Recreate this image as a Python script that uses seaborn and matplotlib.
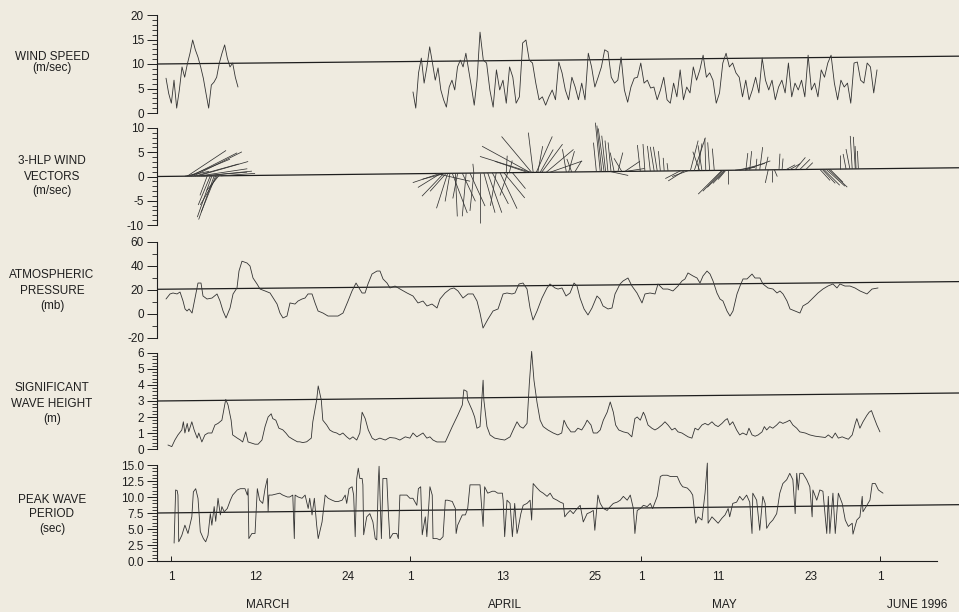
import numpy as np
import pandas as pd
import matplotlib
matplotlib.use("Agg")
import matplotlib.pyplot as plt
from matplotlib.collections import LineCollection
from matplotlib.ticker import MultipleLocator, FixedLocator, FormatStrFormatter
import seaborn as sns

# ------------------------------------------------------------------
# Buoy record, time in days after 1996-03-01 00:00
# ------------------------------------------------------------------

# Wind speed (m/s): March leg and April-May leg (regularly sampled)
wind_mar_span = (-0.65, 8.69)
wind_mar = [7.1, 4.0, 2.0, 6.7, 1.0, 4.7, 9.4, 7.3, 10.0, 12.2, 14.9, 12.9, 11.4, 9.4,
            7.1, 4.0, 1.0, 5.7, 6.3, 7.3, 10.2, 12.2, 13.9, 11.2, 9.4, 10.2, 7.3, 5.3]
wind_apr_a_span = (31.40, 39.71)
wind_apr_a = [4.3, 1.0, 8.2, 11.2, 6.1, 9.4, 13.5, 10.2, 6.7, 9.2, 4.7, 2.7, 1.2, 5.3,
              6.7, 4.7, 9.4, 10.8, 9.4, 12.2, 8.8, 5.3, 1.6, 6.7]
wind_apr_b_span = (40.10, 91.62)
wind_apr_b = [16.5, 10.8, 10.2, 4.7, 1.2, 8.8, 4.7, 6.7, 2.0, 9.4,
              7.3, 2.0, 3.3, 14.3, 14.9, 10.8, 10.2, 6.1, 2.7, 3.3,
              1.6, 3.3, 4.7, 2.7, 10.4, 8.2, 4.7, 2.7, 7.3, 5.3,
              2.7, 6.1, 2.7, 12.2, 9.4, 5.3, 7.3, 9.4, 12.9, 12.5,
              7.3, 6.1, 6.7, 11.4, 4.7, 2.2, 5.3, 7.1, 7.3, 10.2,
              6.1, 6.7, 5.1, 5.3, 2.7, 4.7, 7.3, 2.7, 2.0, 6.1,
              3.3, 8.8, 2.7, 5.3, 4.1, 9.4, 6.7, 8.8, 11.8, 7.3,
              8.2, 6.7, 2.0, 4.1, 10.2, 12.2, 9.4, 10.2, 8.2, 7.3,
              3.3, 6.7, 2.7, 4.7, 7.3, 4.1, 11.2, 6.7, 4.7, 6.7,
              2.7, 5.3, 6.7, 4.1, 10.2, 3.3, 6.1, 4.7, 6.7, 3.3,
              11.8, 4.7, 6.1, 3.3, 8.8, 7.3, 10.2, 11.8, 6.1, 2.7,
              6.7, 5.3, 6.1, 2.0, 10.2, 10.4, 6.7, 6.1, 10.2, 9.4,
              4.1, 8.8]

# 3-hour low-passed wind vectors: time, east (u) and north (v) components, m/s
vec_day = [1.8, 2.1, 2.3, 2.6, 2.9, 3.1, 3.4, 3.6, 3.9, 4.2, 4.7, 5.1, 5.3, 5.6, 5.8, 6.0, 6.2, 6.5,
           34.9, 35.0, 35.4, 35.7, 35.9, 36.2, 36.5, 36.9, 37.2, 37.8, 38.3, 38.8, 39.3, 40.1,
           40.6, 41.1, 41.7, 42.2, 42.7, 43.2, 43.7, 44.3, 34.4, 35.6, 39.3, 43.5, 43.9,
           46.6, 46.7, 46.8, 47.0, 47.4, 47.6, 47.9, 48.1, 48.7, 49.2, 46.3,
           51.3, 51.6, 52.0, 52.4,
           55.7, 55.9, 56.2, 56.4, 56.7, 57.1, 55.2, 57.5, 58.0, 58.5, 58.9, 57.0, 59.0,
           60.9, 61.5, 62.2, 62.7, 63.1, 63.5, 64.0, 64.5, 66.1, 66.6, 67.1,
           67.4, 67.9, 68.4, 68.9, 69.4, 69.9, 70.5, 68.6,
           71.5, 71.6, 71.8, 71.9, 72.0, 72.3,
           74.6, 75.1, 74.5, 73.8, 75.9, 76.4, 77.1, 73.2, 77.5, 78.0, 78.3,
           78.9, 79.3, 79.8, 81.0, 81.6, 82.4, 80.3,
           84.2, 84.5, 84.7, 85.0, 85.3, 85.5,
           86.8, 87.6, 88.4, 88.8, 88.9, 89.2, 88.1]
vec_u = [5.0, 8.0, 8.5, 9.5, 10.0, 9.0, 10.5, 10.0, 9.5, 10.0, -1.5, -2.5, -3.0, -3.2, -3.0, -3.5, -2.5, 7.0,
         -5.6, -4.7, -4.5, -3.3, -2.3, -1.0, 3.1, 0.4, -1.0, 2.7, -0.8, 3.1, -0.8, 0.0,
         2.3, 2.9, 3.3, -1.2, 3.5, 4.3, -1.6, 2.7, 7.0, -4.7, -0.2, 0.2, 0.6,
         -9.9, -10.5, -6.2, -1.0, 3.3, 1.0, 2.7, 4.3, 5.6, 6.6, -6.8,
         -0.8, 1.2, -1.0, 1.4,
         -1.0, -1.0, -1.2, -0.8, -0.6, -0.6, -0.6, -0.8, 1.0, -1.6, 3.1, 3.7, 3.9,
         -0.6, -0.4, -0.6, -0.8, -0.8, -0.4, -0.2, -0.2, -3.1, -3.3, -3.3,
         1.6, 2.3, 0.8, -0.8, -0.2, -0.4, -0.4, -1.4,
         -4.9, -4.1, -3.5, -2.5, -1.6, 0.0,
         0.4, 0.4, 5.2, 5.2, 0.2, 0.6, 0.6, 4.1, -0.6, 0.0, 0.6,
         0.2, 0.2, 1.9, 2.1, 2.1, 1.4, 2.1,
         2.1, 2.7, 3.3, 3.9, 3.9, 2.7,
         0.0, -0.6, -0.4, -0.4, -0.2, -0.2, -0.8]
vec_v = [1.0, 5.3, 3.5, 4.8, 5.0, 2.5, 3.0, 1.5, 0.8, 1.0, -4.0, -6.0, -8.5, -9.0, -7.5, -6.0, -3.0, 0.5,
         -1.9, -2.9, -4.7, -3.7, -7.2, -5.8, -8.2, -8.9, -5.2, -5.8, -8.9, -6.8, -7.8, -10.3,
         -8.2, -8.2, -6.4, -6.8, -7.4, -5.2, -4.7, -3.3, -1.6, -1.2, 1.9, 3.5, 2.5,
         5.4, 3.3, 7.4, 8.2, 7.4, 5.4, 4.7, 5.8, 4.7, 2.3, 2.3,
         4.7, 4.3, 2.7, 2.3,
         10.1, 9.5, 8.9, 7.4, 6.4, 6.0, 6.0, 3.9, 3.9, 2.7, 2.1, -0.8, 0.6,
         5.4, 5.6, 5.2, 5.0, 5.0, 4.1, 2.7, 1.6, -1.6, -2.1, -1.2,
         6.2, 6.8, 5.6, 5.2, 6.6, 5.8, 4.5, 3.9,
         -4.9, -4.3, -3.5, -2.7, -1.9, -2.9,
         3.5, 3.9, 1.9, 1.4, 2.3, 4.7, 2.7, 0.6, -2.7, -2.5, -1.4,
         3.3, 2.3, 1.0, 2.5, 2.1, 1.4, 1.2,
         -2.3, -2.9, -3.3, -3.5, -3.7, -2.7,
         2.9, 3.1, 6.8, 6.6, 4.7, 3.7, 4.1]

# Atmospheric pressure anomaly (mb)
pres_day = [-0.65, -0.13, 0.26, 0.78, 1.17, 1.56, 1.82, 2.08, 2.34, 2.73,
            3.11, 3.50, 3.89, 4.15, 4.67, 5.32, 5.97, 6.36, 6.75, 7.14,
            7.66, 8.05, 8.56, 8.82, 9.21, 9.86, 10.25, 10.64, 11.16, 11.55,
            12.20, 12.85, 13.76, 14.14, 14.53, 15.05, 15.44, 16.09, 16.48, 17.00,
            17.39, 17.78, 18.30, 18.69, 19.08, 19.72, 20.37, 21.02, 21.67, 22.32,
            22.97, 23.49, 24.01, 24.40, 24.79, 25.18, 25.56, 26.08, 26.73, 27.12,
            27.51, 28.03, 28.42, 29.07, 29.72, 30.63, 31.40, 32.05, 32.70, 33.22,
            33.87, 34.52, 34.91, 35.56, 36.21, 36.72, 37.24, 37.89, 38.54, 39.19,
            39.71, 40.10,
            40.49, 41.14, 41.79, 42.44, 43.09, 43.60, 44.25, 44.64, 45.16, 45.68,
            46.20, 46.59, 46.98, 47.50, 48.14, 48.79, 49.18, 49.83, 50.22, 50.74,
            51.26, 51.78, 52.30, 52.69, 53.08, 53.60, 54.11, 54.63, 55.28, 55.67,
            56.06, 56.71, 57.23, 57.62, 58.27, 58.66, 59.30, 59.82, 60.47, 61.12,
            61.51, 62.16, 62.81, 63.20, 63.85, 64.49, 65.14, 65.79, 66.31, 66.70,
            67.09, 67.74, 68.26, 68.65, 69.04, 69.56, 69.95, 70.34, 70.85, 71.24,
            71.63, 72.15, 72.54, 72.93, 73.45, 73.84, 74.23, 74.75, 75.40, 75.79,
            76.43, 76.82, 77.47, 78.12, 78.64, 79.03, 79.42, 79.94, 80.33, 80.98,
            81.62, 82.01, 82.66, 83.31, 83.96, 84.60, 85.25, 85.90, 86.42, 86.81,
            87.46, 88.11, 88.76, 89.41, 90.32, 90.97, 91.75]
pres_mb = [12.5, 16.7, 17.5, 16.7, 18.3, 10.8, 4.2, 2.5, 4.2, 0.8,
           13.3, 25.8, 25.8, 15.0, 12.5, 13.3, 16.7, 10.8, 2.5, -3.3,
           5.0, 16.7, 21.7, 35.8, 44.0, 42.5, 40.0, 30.0, 25.0, 20.8,
           19.2, 17.5, 8.3, 0.8, -3.3, -1.7, 9.2, 8.3, 10.8, 12.5,
           13.3, 16.7, 16.7, 9.2, 2.5, 0.8, -1.7, -1.7, -1.7, 0.8,
           10.8, 19.2, 25.8, 21.7, 17.5, 17.5, 25.0, 33.3, 35.8, 35.8,
           29.2, 25.8, 21.7, 23.3, 20.8, 17.5, 15.0, 9.2, 10.8, 6.7,
           8.3, 5.0, 12.5, 17.5, 20.8, 21.7, 19.2, 13.3, 16.7, 16.7,
           10.8, 0.8,
           -11.7, -4.2, 2.5, 4.2, 16.7, 17.5, 16.7, 17.5, 25.0, 25.8,
           20.8, 5.0, -5.0, 2.5, 13.3, 21.7, 25.0, 21.7, 20.8, 21.7,
           15.0, 17.5, 25.8, 23.3, 13.3, 4.2, -0.8, 5.0, 15.0, 12.5,
           6.7, 4.2, 5.0, 16.7, 25.0, 27.5, 30.0, 23.3, 17.5, 9.2,
           16.7, 17.5, 16.7, 25.0, 20.8, 20.8, 19.2, 23.3, 27.5, 29.2,
           34.2, 31.7, 30.0, 25.8, 31.7, 35.8, 33.3, 27.5, 17.5, 12.5,
           10.8, 2.5, -1.7, 2.5, 16.7, 23.3, 29.2, 29.2, 33.3, 30.0,
           30.0, 25.0, 21.7, 20.8, 17.5, 19.2, 16.7, 10.8, 4.2, 2.5,
           0.8, 6.7, 9.2, 13.3, 17.5, 20.8, 23.3, 25.0, 21.7, 25.0,
           23.3, 23.3, 21.7, 19.2, 16.7, 20.8, 21.7]

# Significant wave height (m)
hs_day = [-0.4, 0.1, 0.5, 0.9, 1.4, 1.6, 1.8, 2.1, 2.3, 2.7,
          3.0, 3.4, 3.6, 4.0, 4.4, 4.8, 5.3, 5.7, 6.1, 6.6,
          6.9, 7.1, 7.4, 7.8, 8.0, 8.6, 9.0, 9.3, 9.7, 10.0,
          10.5, 10.9, 11.3, 11.8, 12.2, 12.6, 13.0, 13.2, 13.6, 14.0,
          14.5, 14.9, 15.3, 15.8, 16.4, 16.7, 17.1, 17.6, 18.2, 18.4,
          18.9, 19.1, 19.5, 19.7, 20.2, 20.6, 21.0, 21.5, 21.9, 22.3,
          22.8, 23.2, 23.6, 24.1, 24.5, 24.8, 25.2, 25.6, 26.1, 26.5,
          27.1, 27.8, 28.4, 29.1, 29.7, 30.4, 31.0, 31.4, 31.9, 32.3,
          32.7, 33.2, 33.6, 34.0, 34.5, 34.9, 35.6, 35.9, 36.5, 36.9,
          37.2, 37.8, 38.0, 38.4, 38.5, 39.1, 39.4, 39.7, 40.1,
          40.5, 40.6, 41.0, 41.4, 42.0, 42.7, 43.3, 44.0, 44.4, 44.9,
          45.3, 45.7, 46.2, 46.5, 46.8, 47.1, 47.5, 47.9, 48.3, 48.9,
          49.6, 50.2, 50.7, 51.0, 51.4, 51.9, 52.4, 52.8, 53.3, 53.7,
          54.0, 54.5, 54.8, 55.3, 55.7, 56.1, 56.6, 57.0, 57.4, 57.7,
          58.1, 58.7, 59.3, 59.8, 60.2, 60.5, 60.9, 61.3, 61.5, 61.9,
          62.4, 62.8, 63.2, 63.7, 64.1, 64.5, 65.0, 65.4, 65.8, 66.3,
          66.7, 67.1, 67.6, 68.0, 68.4, 68.9, 69.3, 69.7, 70.2, 70.6,
          71.0, 71.5, 71.9, 72.2, 72.5, 72.9, 73.4, 73.8, 74.2, 74.7,
          75.0, 75.4, 75.8, 76.2, 76.7, 77.0, 77.3, 77.7, 78.1, 78.6,
          79.0, 79.4, 79.9, 80.3, 80.7, 81.2, 81.6, 82.3, 82.9, 83.6,
          84.2, 84.9, 85.3, 85.8, 86.2, 86.6, 87.1, 87.5, 87.9, 88.4,
          88.8, 89.0, 89.4, 89.8, 90.3, 90.6, 90.9, 91.2, 91.6, 92.0]
hs_m = [0.25, 0.15, 0.56, 0.88, 1.19, 1.7, 1.0, 1.6, 1.08, 1.7,
        1.19, 0.68, 1.0, 0.44, 0.88, 1.0, 1.0, 1.5, 1.6, 1.8,
        2.6, 3.1, 2.75, 1.8, 0.88, 0.68, 0.56, 0.44, 1.07, 0.44,
        0.36, 0.3, 0.3, 0.56, 1.4, 2.0, 2.2, 1.9, 1.8, 1.3,
        1.2, 1.0, 0.76, 0.61, 0.45, 0.45, 0.4, 0.45, 0.68, 1.7,
        3.06, 3.94, 3.06, 1.8, 1.5, 1.19, 1.07, 1.0, 0.88, 1.0,
        0.76, 0.61, 0.76, 0.56, 1.0, 2.3, 1.9, 1.19, 0.68, 0.56,
        0.68, 0.56, 0.72, 0.68, 0.56, 0.76, 0.68, 1.0, 0.76, 0.88,
        1.0, 0.68, 0.76, 0.56, 0.44, 0.44, 0.44, 0.76, 1.4, 1.8,
        2.1, 2.75, 3.7, 3.6, 3.06, 2.4, 2.0, 1.3, 1.4,
        4.3, 3.06, 1.4, 0.88, 0.68, 0.61, 0.56, 0.76, 1.19, 1.7,
        1.4, 1.3, 1.6, 4.1, 6.1, 4.3, 2.9, 1.8, 1.4, 1.19,
        1.0, 0.88, 1.0, 1.8, 1.4, 1.07, 1.07, 1.3, 1.19, 1.5,
        1.8, 1.5, 1.0, 1.0, 1.19, 1.8, 2.3, 2.94, 2.3, 1.5,
        1.19, 1.07, 1.0, 0.76, 1.9, 2.0, 1.8, 2.3, 2.1, 1.5,
        1.3, 1.19, 1.3, 1.5, 1.7, 1.5, 1.19, 1.3, 1.07, 1.0,
        0.88, 0.76, 0.68, 1.3, 1.19, 1.5, 1.6, 1.5, 1.7, 1.5,
        1.4, 1.6, 1.8, 1.9, 1.5, 1.7, 1.19, 0.88, 1.0, 0.88,
        1.3, 0.88, 0.8, 0.88, 1.07, 1.4, 1.19, 1.4, 1.3, 1.5,
        1.7, 1.6, 1.7, 1.8, 1.5, 1.3, 1.07, 1.0, 0.88, 0.8,
        0.76, 0.72, 0.88, 0.68, 1.0, 0.68, 0.76, 0.68, 0.61, 0.88,
        1.6, 1.9, 1.3, 1.7, 2.1, 2.3, 2.4, 2.0, 1.5, 1.07]

# Peak wave period (s)
tp_day = [0.4, 0.6, 0.8, 0.9, 1.0, 1.4, 1.8, 2.2, 2.7, 2.9,
          3.2, 3.5, 3.8, 4.2, 4.5, 4.8, 5.1, 5.3, 5.6, 5.8,
          6.1, 6.4, 6.6, 6.9, 7.3, 7.7, 8.0, 8.6, 9.0, 9.6,
          9.9, 10.0, 10.1, 10.5, 10.9, 11.2, 11.5, 11.9, 12.2, 12.5,
          12.6, 12.7, 13.1, 14.1, 14.5, 15.1, 15.4, 15.8, 16.0, 16.1,
          16.5, 17.0, 17.4, 17.8, 18.0, 18.3, 18.6, 18.9, 19.1, 19.6,
          20.0, 20.4, 20.9, 21.3, 21.7, 22.2, 22.6, 22.8, 23.1, 23.5,
          23.7, 23.9, 24.1, 24.3, 24.5, 24.8, 24.9, 25.0, 25.4, 25.8,
          26.2, 26.5, 26.7, 26.9, 27.0, 27.3, 27.5, 28.0, 28.2, 28.4,
          28.8, 29.3, 29.5, 29.7, 30.1, 30.6, 31.0, 31.4, 31.9, 32.1,
          32.4, 32.6, 33.0, 33.2, 33.6, 33.9, 34.0, 34.5, 34.9, 35.3,
          35.6, 35.9, 36.5, 36.9, 37.0, 37.2, 37.8, 38.2, 38.5, 38.8,
          39.7, 40.1, 40.5, 40.7, 41.1, 41.7, 42.0, 42.4, 43.0, 43.1,
          43.3, 43.6, 44.0, 44.3, 44.4, 44.6, 44.9, 45.0, 45.4, 45.7,
          46.2, 46.6, 46.8, 47.0, 47.5, 47.9, 48.3, 48.8, 49.2, 49.6,
          50.1, 50.5, 50.9, 51.1, 51.4, 51.8, 52.2, 52.7, 53.1, 53.5,
          54.0, 54.4, 54.8, 55.0, 55.4, 55.7, 56.1, 56.6, 57.0, 57.4,
          57.9, 58.3, 58.7, 59.2, 59.6, 60.0, 60.2, 60.5, 60.9, 61.3,
          61.8, 62.2, 62.5, 63.1, 63.5, 63.8, 64.4, 64.8, 65.1, 65.7,
          66.1, 66.4, 67.0, 67.4, 67.7, 68.1, 68.4, 68.9, 69.3, 69.6,
          69.7, 70.2, 70.6, 71.0, 71.5, 71.9, 72.3, 72.5, 72.9, 73.4,
          73.8, 74.2, 74.7, 75.1, 75.4, 75.5, 76.0, 76.4, 76.8, 77.1,
          77.3, 77.7, 78.1, 78.6, 79.0, 79.4, 79.9, 80.3, 80.7, 81.0,
          81.2, 81.4, 81.6, 82.0, 82.5, 82.9, 83.2, 83.3, 83.8, 84.2,
          84.6, 85.1, 85.3, 85.5, 85.9, 86.2, 86.6, 87.1, 87.5, 87.9,
          88.4, 88.5, 89.0, 89.4, 89.7, 89.8, 90.3, 90.7, 91.0, 91.4,
          91.8, 92.4]
tp_sec = [2.8, 11.1, 11.0, 10.3, 3.0, 4.0, 5.6, 4.3, 6.9, 10.8,
          11.3, 9.8, 4.6, 3.5, 3.0, 4.0, 7.4, 5.6, 8.5, 6.2,
          9.8, 7.2, 8.5, 7.7, 8.2, 9.5, 10.3, 11.1, 11.3, 11.3,
          10.3, 11.3, 3.5, 4.3, 4.3, 11.3, 9.5, 9.0, 11.3, 12.9,
          7.7, 10.3, 10.3, 10.6, 10.3, 10.0, 10.0, 10.3, 3.5, 10.3,
          10.0, 9.8, 10.3, 8.2, 9.8, 7.2, 9.8, 5.6, 3.5, 6.1,
          10.3, 9.8, 9.5, 9.3, 9.3, 9.5, 10.3, 9.0, 11.3, 11.6,
          10.3, 3.8, 12.9, 14.5, 12.9, 12.9, 11.9, 4.1, 6.9, 7.4,
          6.1, 3.5, 3.3, 12.4, 14.8, 3.5, 12.9, 12.9, 7.7, 3.5,
          4.3, 4.3, 3.5, 10.3, 10.3, 10.3, 9.8, 9.8, 8.7, 11.3,
          11.6, 4.1, 6.9, 3.8, 11.6, 10.3, 3.5, 3.5, 3.3, 3.8,
          9.5, 9.5, 9.3, 8.2, 4.3, 5.6, 7.2, 7.2, 8.2, 11.9,
          11.9, 11.9, 5.4, 11.6, 10.6, 10.9, 10.9, 10.6, 10.6, 9.5,
          3.8, 9.5, 9.0, 3.8, 5.4, 9.0, 4.3, 4.8, 7.4, 8.7,
          9.0, 9.5, 6.4, 12.1, 11.4, 10.9, 10.6, 10.1, 10.6, 9.8,
          9.5, 9.2, 9.0, 6.9, 7.4, 7.9, 7.4, 8.2, 8.7, 6.1,
          7.4, 7.6, 7.9, 4.8, 10.3, 9.0, 8.2, 7.9, 8.5, 9.0,
          9.2, 9.5, 10.1, 9.5, 10.3, 8.2, 4.3, 7.9, 8.2, 8.7,
          8.5, 9.0, 8.2, 10.1, 13.2, 13.4, 13.4, 13.2, 13.2, 13.2,
          12.1, 11.6, 11.4, 10.9, 10.3, 5.9, 6.9, 6.4, 10.6, 15.3,
          5.9, 6.9, 6.4, 5.9, 6.7, 7.2, 8.2, 6.9, 9.0, 9.2,
          10.1, 9.5, 10.3, 9.2, 4.3, 10.6, 9.5, 4.8, 10.1, 9.0,
          5.1, 5.9, 6.4, 7.4, 10.6, 12.1, 12.7, 13.7, 12.7, 7.4,
          13.7, 11.1, 13.7, 13.7, 12.7, 11.6, 6.9, 11.1, 9.5, 11.1,
          10.9, 4.3, 10.1, 4.3, 10.6, 4.3, 10.6, 9.0, 6.4, 5.4,
          5.9, 4.2, 6.4, 6.9, 10.1, 7.7, 8.7, 9.5, 12.1, 12.1,
          11.1, 10.6]

# Reference levels at the start and end of the plotted window
ref_wind = (10.0, 11.6)
ref_vec = (0.0, 1.8)
ref_pres = (20.6, 27.0)
ref_hs = (3.0, 3.5)
ref_tp = (7.5, 8.8)

# Date axis
day_ticks = [0, 11, 23, 31, 43, 55, 61, 71, 83, 92]
day_tick_labels = ["1", "12", "24", "1", "13", "25", "1", "11", "23", "1"]
month_starts = [0, 31, 61, 92]
month_names = ["MARCH", "APRIL", "MAY", "JUNE 1996"]

panel_titles = [["WIND SPEED", "(m/sec)"],
                ["3-HLP WIND", "VECTORS", "(m/sec)"],
                ["ATMOSPHERIC", "PRESSURE", "(mb)"],
                ["SIGNIFICANT", "WAVE HEIGHT", "(m)"],
                ["PEAK WAVE", "PERIOD", "(sec)"]]

# ------------------------------------------------------------------
# Styling and layout
# ------------------------------------------------------------------
PAPER = "#efebe0"
INK = "#1e1e1e"
TRACE = "#333333"

sns.set_theme(style="ticks", rc={
    "axes.facecolor": PAPER, "figure.facecolor": PAPER, "savefig.facecolor": PAPER,
    "axes.edgecolor": INK, "xtick.color": INK, "ytick.color": INK, "text.color": INK,
})
plt.rcParams["font.family"] = ["Liberation Sans", "DejaVu Sans"]

FIG_W, FIG_H, DPI = 959, 612, 100
AX_L, AX_R = 157, 959
X0, X1 = -1.82, 102.26
AXIS_END = 99.4
PT = 72.0 / DPI          # points per pixel
FS = 8.5

rows = [(15, 113), (128, 225), (242, 338), (353, 449), (465, 561)]
title_baselines = [[59.5, 71.0], [164.0, 179.5, 194.0], [278.0, 294.0, 309.0],
                   [391.0, 407.0, 422.0], [503.0, 517.0, 532.0]]
ylims = [(0, 20), (-10, 10), (-20, 60), (0, 6), (0, 15)]
yticks = [[0, 5, 10, 15, 20], [-10, -5, 0, 5, 10], [-20, 0, 20, 40, 60],
          [0, 1, 2, 3, 4, 5, 6], [0, 2.5, 5, 7.5, 10, 12.5, 15]]
yminor = [1, 1, 10, 0.2, 0.5]
yfmt = ["%d", "%d", "%d", "%d", "%.1f"]

fig = plt.figure(figsize=(FIG_W / DPI, FIG_H / DPI), dpi=DPI)
axes = []
for (top, bot) in rows:
    ax = fig.add_axes([AX_L / FIG_W, 1 - bot / FIG_H,
                       (AX_R - AX_L) / FIG_W, (bot - top) / FIG_H])
    ax.patch.set_visible(False)
    axes.append(ax)


def ref_line(ax, levels):
    ax.plot([X0, X1], list(levels), color=INK, lw=0.9,
            solid_capstyle="butt", zorder=1, clip_on=False)


line_kw = dict(estimator=None, sort=False, color=TRACE, linewidth=0.6, legend=False)

# Wind speed
ax = axes[0]
t_mar = np.linspace(*wind_mar_span, len(wind_mar))
t_apr = np.concatenate([np.linspace(*wind_apr_a_span, len(wind_apr_a)),
                        np.linspace(*wind_apr_b_span, len(wind_apr_b))])
wind_df = pd.DataFrame({
    "day": np.concatenate([t_mar, t_apr]),
    "speed": wind_mar + wind_apr_a + wind_apr_b,
    "leg": ["mar"] * len(t_mar) + ["apr"] * len(t_apr),
})
sns.lineplot(data=wind_df, x="day", y="speed", units="leg", ax=ax, **line_kw)
ref_line(ax, ref_wind)

# Wind stick vectors drawn from the reference line, equal m/s scale on both axes
ax = axes[1]
ref_line(ax, ref_vec)
px_per_day = (AX_R - AX_L) / (X1 - X0)
px_per_ms = (rows[1][1] - rows[1][0]) / (ylims[1][1] - ylims[1][0])
k = px_per_ms / px_per_day
vd = np.asarray(vec_day)
base = ref_vec[0] + (ref_vec[1] - ref_vec[0]) * (vd - X0) / (X1 - X0)
segs = [[(d, b), (d + u * k, b + v)] for d, b, u, v in zip(vd, base, vec_u, vec_v)]
ax.add_collection(LineCollection(segs, colors=TRACE, linewidths=0.55, clip_on=False))

# Pressure
ax = axes[2]
sns.lineplot(x=pres_day, y=pres_mb, ax=ax, **line_kw)
ref_line(ax, ref_pres)

# Significant wave height
ax = axes[3]
sns.lineplot(x=hs_day, y=hs_m, ax=ax, **line_kw)
for ln in ax.lines:
    ln.set_clip_on(False)
ref_line(ax, ref_hs)

# Peak wave period
ax = axes[4]
sns.lineplot(x=tp_day, y=tp_sec, ax=ax, **line_kw)
for ln in ax.lines:
    ln.set_clip_on(False)
ref_line(ax, ref_tp)

# Axes decoration
for i, ax in enumerate(axes):
    ax.set_xlim(X0, X1)
    ax.set_ylim(*ylims[i])
    ax.set_xlabel("")
    ax.set_ylabel("")
    for s in ("top", "right", "bottom"):
        ax.spines[s].set_visible(False)
    ax.spines["left"].set_linewidth(0.8)
    ax.yaxis.set_major_locator(FixedLocator(yticks[i]))
    ax.yaxis.set_minor_locator(MultipleLocator(yminor[i]))
    ax.yaxis.set_major_formatter(FormatStrFormatter(yfmt[i]))
    ax.tick_params(axis="y", which="major", direction="out", length=10 * PT,
                   width=0.7, pad=3 * PT, labelsize=FS)
    ax.tick_params(axis="y", which="minor", direction="out", length=5 * PT, width=0.6)
    ax.tick_params(axis="x", which="both", bottom=False, labelbottom=False)
    for j, txt in enumerate(panel_titles[i]):
        fig.text(52 / FIG_W, 1 - title_baselines[i][j] / FIG_H, txt,
                 ha="center", va="baseline", fontsize=FS)

ax = axes[4]
ax.spines["bottom"].set_visible(True)
ax.spines["bottom"].set_linewidth(0.8)
ax.spines["bottom"].set_bounds(X0, AXIS_END)
ax.xaxis.remove_overlapping_locs = False
ax.set_xticks(day_ticks)
ax.set_xticklabels(day_tick_labels)
ax.set_xticks(month_starts, minor=True)
ax.tick_params(axis="x", which="major", bottom=True, labelbottom=True,
               length=0, pad=10 * PT, labelsize=FS)
ax.tick_params(axis="x", which="minor", bottom=True, direction="in",
               length=5 * PT, width=0.7)

month_label_days = [12.6, 43.3, 71.8, 96.8]
for d, name in zip(month_label_days, month_names):
    ax.annotate(name, xy=(d, 0), xycoords=("data", "axes fraction"),
                xytext=(0, -44 * PT), textcoords="offset points",
                ha="center", va="center", fontsize=FS, annotation_clip=False)

fig.savefig("out.png", dpi=DPI)
